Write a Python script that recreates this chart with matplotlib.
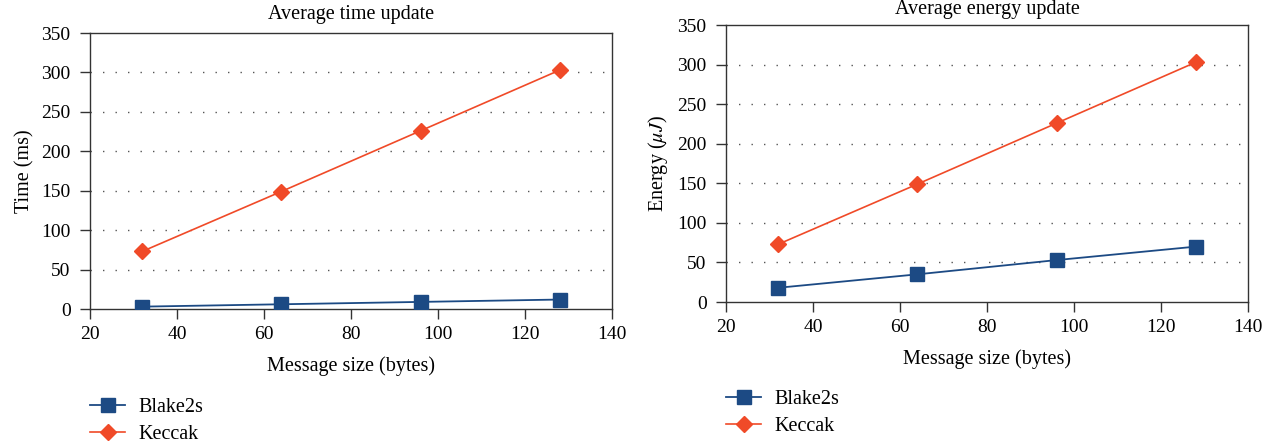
import matplotlib
matplotlib.use("Agg")
import matplotlib.pyplot as plt

plt.rcParams['font.family'] = ['Liberation Serif', 'DejaVu Serif']
plt.rcParams['mathtext.fontset'] = 'stix'

# data
msg_size = [32, 64, 96, 128]
time_blake = [3, 6, 9, 12]
time_keccak = [73, 149, 226, 303]
energy_blake = [18, 35, 53, 70]
energy_keccak = [73, 149, 226, 303]
series_names = ['Blake2s', 'Keccak']
x_ticks = [20, 40, 60, 80, 100, 120, 140]
y_ticks = [0, 50, 100, 150, 200, 250, 300, 350]

blue = '#1c4a84'
red = '#f04a28'
fs = 14.5


def draw(ax, blake, keccak, title, ylabel, title_pad):
    ax.plot(msg_size, blake, color=blue, lw=1.3, marker='s', ms=9.5,
            mec=blue, mfc=blue, label=series_names[0], zorder=3)
    ax.plot(msg_size, keccak, color=red, lw=1.2, marker='D', ms=8,
            mec=red, mfc=red, label=series_names[1], zorder=3)
    ax.set_xlim(20, 140)
    ax.set_ylim(0, 350)
    ax.set_xticks(x_ticks)
    ax.set_yticks(y_ticks)
    # dotted guide lines, not at 0 or the top
    for v in y_ticks[1:-1]:
        ax.axhline(v, color='#555555', lw=1.0, ls=(0, (1, 8)), zorder=1)
    for s in ax.spines.values():
        s.set_color('#333333')
        s.set_linewidth(1.0)
    ax.tick_params(direction='out', length=7, width=1.0, color='#333333',
                   labelsize=14)
    ax.tick_params(axis='y', pad=7)
    ax.tick_params(axis='x', pad=5)
    ax.set_xlabel('Message size (bytes)', fontsize=fs, labelpad=10)
    ax.set_ylabel(ylabel, fontsize=fs, labelpad=5)
    ax.set_title(title, fontsize=fs, pad=title_pad)


fig = plt.figure(figsize=(12.76, 4.42), dpi=100)
ax1 = fig.add_axes([0.0705, 0.3009, 0.4091, 0.6244])
ax2 = fig.add_axes([0.569, 0.3167, 0.4091, 0.6267])

draw(ax1, time_blake, time_keccak, 'Average time update', 'Time (ms)', 10)
draw(ax2, energy_blake, energy_keccak, 'Average energy update',
     r'Energy ($\mu J$)', 8)

for ax, anchor in ((ax1, (0.0705, 0.1)), (ax2, (0.569, 0.118))):
    h, l = ax.get_legend_handles_labels()
    fig.legend(h, l, loc='upper left', bbox_to_anchor=anchor, frameon=False,
               fontsize=fs, handlelength=1.75, handletextpad=0.65,
               labelspacing=0.42, borderaxespad=0, borderpad=0)

fig.savefig('out.png', dpi=100, facecolor='white')
